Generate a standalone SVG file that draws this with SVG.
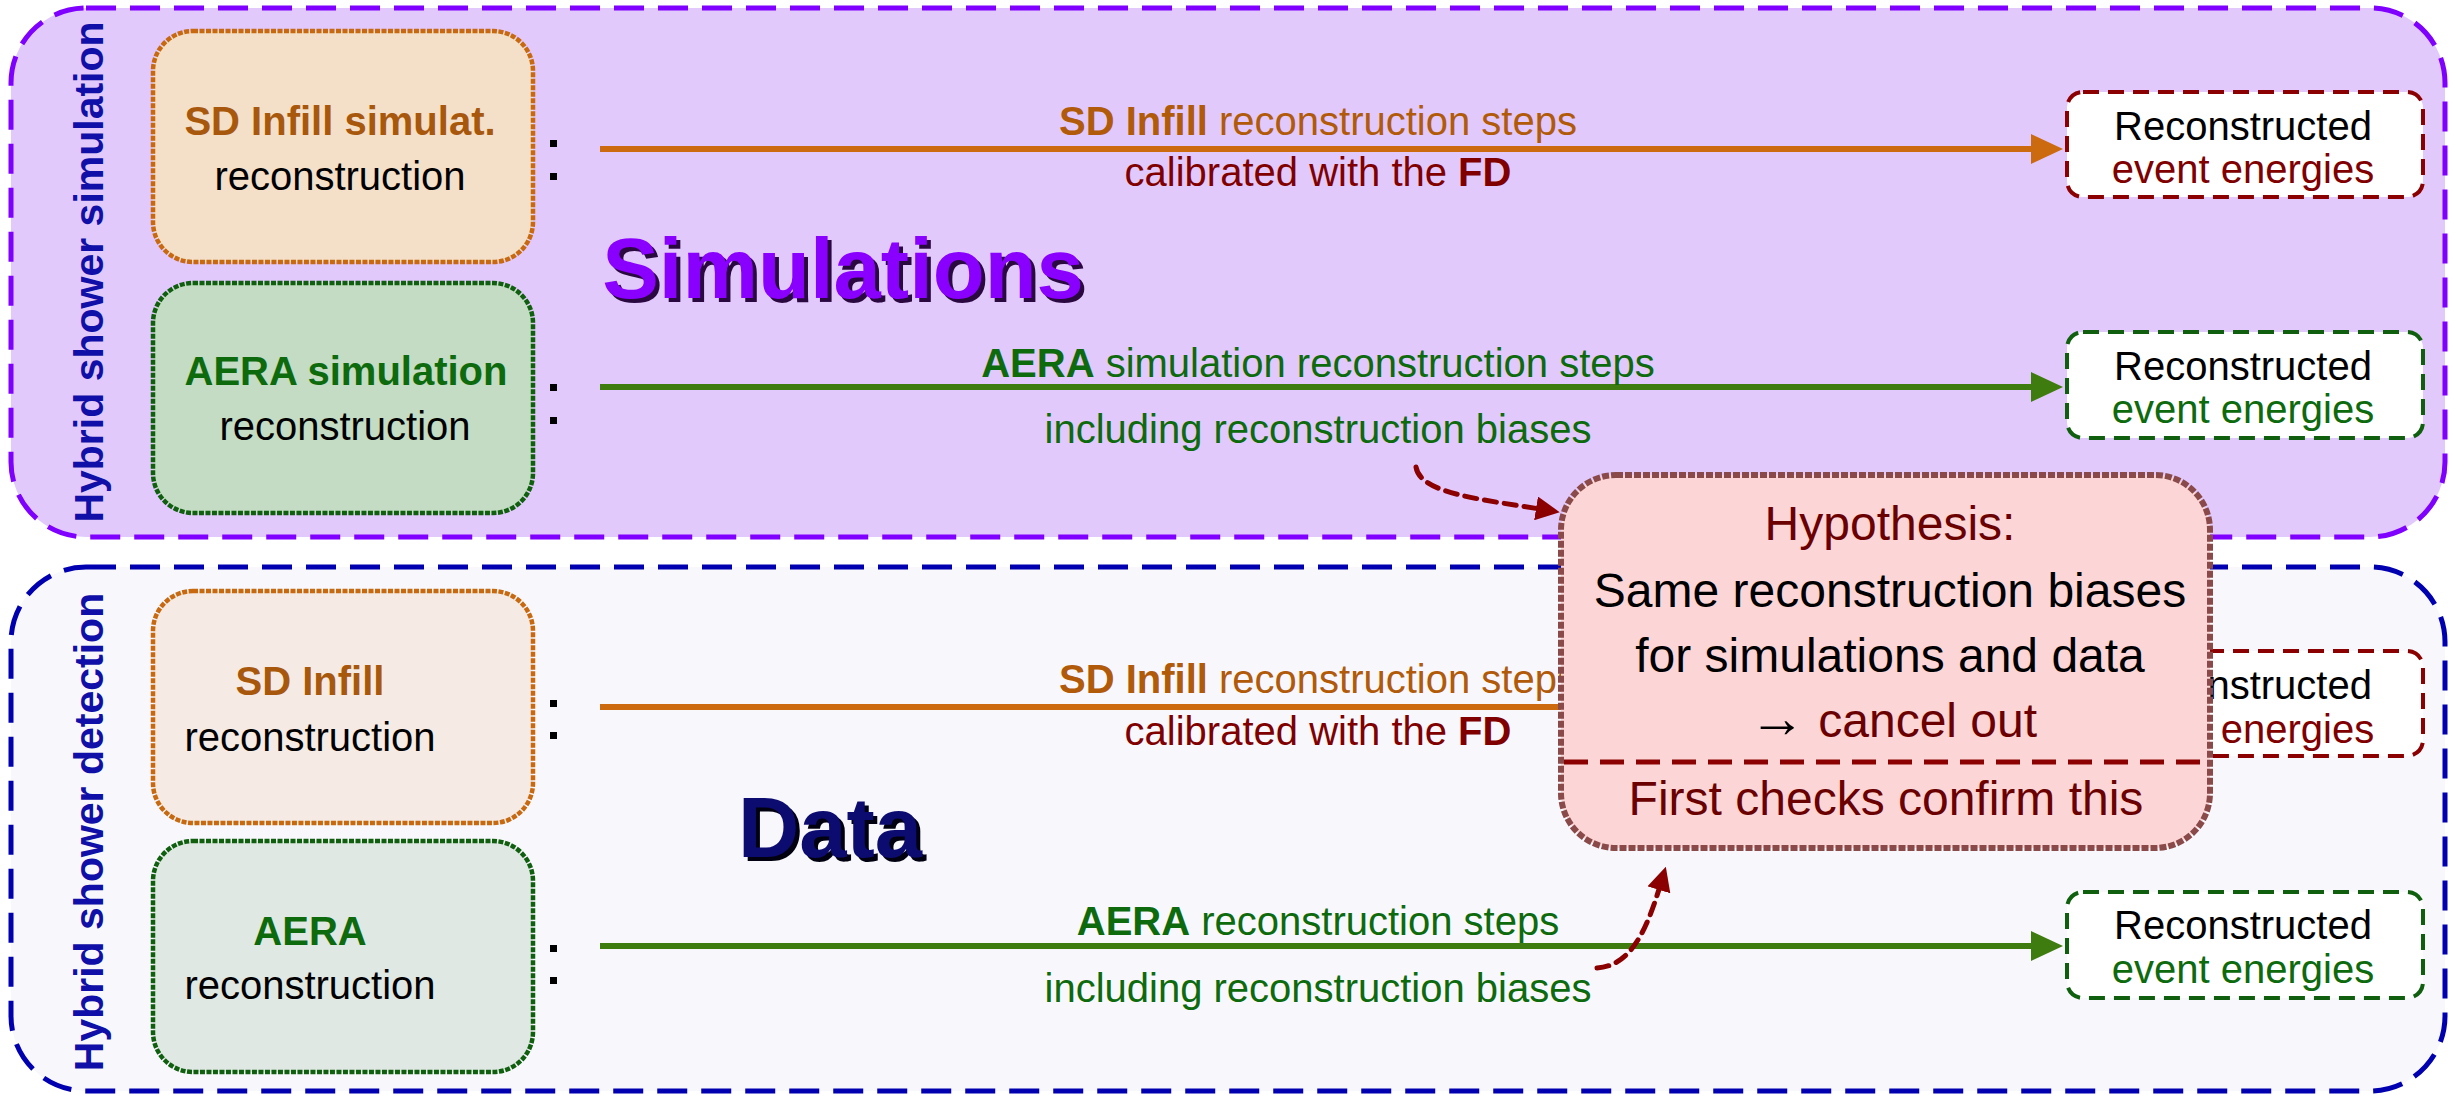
<svg xmlns="http://www.w3.org/2000/svg" width="2454" height="1094" viewBox="0 0 2454 1094">
  <style>
    text { font-family: "Liberation Sans", Arial, sans-serif; font-size: 40px; }
    .b { font-weight: bold; }
    .mid { text-anchor: middle; }
    .blk { fill: #000000; }
    .dred { fill: #800000; }
    .org { fill: #b05a0a; }
    .grn { fill: #0d6a0d; }
    .vlab { font-size: 41px; font-weight: bold; fill: #1010a8; text-anchor: middle; }
    .big { font-size: 85px; font-weight: bold; }
    .hyp { font-size: 48px; text-anchor: middle; }
    .arw { font-size: 56px; font-weight: bold; fill: #000000; }
    .box { stroke-width: 4.5; stroke-dasharray: 5 1.5; }
    .rbox { fill: #ffffff; stroke-width: 4; stroke-dasharray: 16 9; }
    .dot { fill: #000000; }
    .conn { fill: none; stroke-width: 6; }
    .curve { fill: none; stroke: #8b0000; stroke-width: 5; stroke-dasharray: 12 8; stroke-linecap: round; }
  </style>
  <defs>
    <marker id="headOrange" viewBox="0 0 32 30" markerWidth="32" markerHeight="30" markerUnits="userSpaceOnUse" refX="2" refY="15" orient="auto">
      <path d="M0,0 L32,15 L0,30 Z" fill="#cc6a10"/>
    </marker>
    <marker id="headGreen" viewBox="0 0 32 30" markerWidth="32" markerHeight="30" markerUnits="userSpaceOnUse" refX="2" refY="15" orient="auto">
      <path d="M0,0 L32,15 L0,30 Z" fill="#3f7c10"/>
    </marker>
    <marker id="headRed" viewBox="0 0 24 24" markerWidth="24" markerHeight="24" markerUnits="userSpaceOnUse" refX="4" refY="12" orient="auto">
      <path d="M0,0 L24,12 L0,24 Z" fill="#8b0000"/>
    </marker>
  </defs>

  <rect width="2454" height="1094" fill="#ffffff"/>

  <!-- simulation frame -->
  <g id="frame-simulation">
    <rect x="11" y="8" width="2434" height="529" rx="75" fill="#e2c9fb" stroke="#7f00ff" stroke-width="5" stroke-dasharray="30 14"/>
    <text class="vlab" transform="translate(103,272) rotate(-90)">Hybrid shower simulation</text>
    <text class="big mid" x="847" y="302" fill="#2a0840">Simulations</text>
    <text class="big mid" x="843" y="298" fill="#8a00ff">Simulations</text>
  </g>

  <!-- data frame -->
  <g id="frame-data">
    <rect x="11" y="567" width="2434" height="524" rx="75" fill="#f8f8fc" stroke="#0000b0" stroke-width="5" stroke-dasharray="30 14"/>
    <text class="vlab" transform="translate(103,832) rotate(-90)">Hybrid shower detection</text>
    <text class="big mid" x="834" y="861" fill="#000010">Data</text>
    <text class="big mid" x="830" y="857" fill="#0c0c70">Data</text>
  </g>

  <!-- left-hand source nodes -->
  <g id="node-sd-sim">
    <rect class="box" x="153" y="31" width="380" height="231" rx="40" fill="#f4dfc9" stroke="#c8680f"/>
    <text class="b mid" x="340" y="135" fill="#a8580c">SD Infill simulat.</text>
    <text class="mid blk" x="340" y="190">reconstruction</text>
  </g>
  <g id="node-aera-sim">
    <rect class="box" x="153" y="283" width="380" height="230" rx="40" fill="#c3dcc3" stroke="#0f5f0f"/>
    <text class="b mid grn" x="346" y="385">AERA simulation</text>
    <text class="mid blk" x="345" y="440">reconstruction</text>
  </g>
  <g id="node-sd-data">
    <rect class="box" x="153" y="591" width="380" height="232" rx="40" fill="#f5ebe4" stroke="#c8680f"/>
    <text class="b mid" x="310" y="695" fill="#a8580c">SD Infill</text>
    <text class="mid blk" x="310" y="751">reconstruction</text>
  </g>
  <g id="node-aera-data">
    <rect class="box" x="153" y="841" width="380" height="231" rx="40" fill="#e0e8e3" stroke="#0f5f0f"/>
    <text class="b mid grn" x="310" y="945">AERA</text>
    <text class="mid blk" x="310" y="999">reconstruction</text>
  </g>

  <!-- right-hand result nodes -->
  <g id="node-energy-sd-sim">
    <rect class="rbox" x="2067" y="92" width="356" height="105" rx="16" stroke="#8b0000"/>
    <text class="mid blk" x="2243" y="140">Reconstructed</text>
    <text class="mid dred" x="2243" y="183">event energies</text>
  </g>
  <g id="node-energy-aera-sim">
    <rect class="rbox" x="2067" y="332" width="356" height="106" rx="16" stroke="#0f5f0f"/>
    <text class="mid blk" x="2243" y="380">Reconstructed</text>
    <text class="mid grn" x="2243" y="423">event energies</text>
  </g>
  <g id="node-energy-sd-data">
    <rect class="rbox" x="2067" y="651" width="356" height="105" rx="16" stroke="#8b0000"/>
    <text class="mid blk" x="2243" y="699">Reconstructed</text>
    <text class="mid dred" x="2243" y="743">event energies</text>
  </g>
  <g id="node-energy-aera-data">
    <rect class="rbox" x="2067" y="892" width="356" height="106" rx="16" stroke="#0f5f0f"/>
    <text class="mid blk" x="2243" y="939">Reconstructed</text>
    <text class="mid grn" x="2243" y="983">event energies</text>
  </g>

  <!-- connectors with their step labels -->
  <g id="connectors">
    <rect class="dot" x="550" y="140" width="7" height="7"/>
    <rect class="dot" x="550" y="173" width="7" height="7"/>
    <rect class="dot" x="550" y="384" width="7" height="7"/>
    <rect class="dot" x="550" y="417" width="7" height="7"/>
    <rect class="dot" x="550" y="700" width="7" height="7"/>
    <rect class="dot" x="550" y="732" width="7" height="7"/>
    <rect class="dot" x="550" y="945" width="7" height="7"/>
    <rect class="dot" x="550" y="977" width="7" height="7"/>

    <line class="conn" x1="600" y1="149" x2="2033" y2="149" stroke="#cc6a10" marker-end="url(#headOrange)"/>
    <text class="mid org" x="1318" y="135"><tspan class="b">SD Infill</tspan> reconstruction steps</text>
    <text class="mid dred" x="1318" y="186">calibrated with the <tspan class="b">FD</tspan></text>

    <line class="conn" x1="600" y1="387" x2="2033" y2="387" stroke="#3f7c10" marker-end="url(#headGreen)"/>
    <text class="mid grn" x="1318" y="377"><tspan class="b">AERA</tspan> simulation reconstruction steps</text>
    <text class="mid grn" x="1318" y="443">including reconstruction biases</text>

    <line class="conn" x1="600" y1="707" x2="2033" y2="707" stroke="#cc6a10" marker-end="url(#headOrange)"/>
    <text class="mid org" x="1318" y="693"><tspan class="b">SD Infill</tspan> reconstruction steps</text>
    <text class="mid dred" x="1318" y="745">calibrated with the <tspan class="b">FD</tspan></text>

    <line class="conn" x1="600" y1="946" x2="2033" y2="946" stroke="#3f7c10" marker-end="url(#headGreen)"/>
    <text class="mid grn" x="1318" y="935"><tspan class="b">AERA</tspan> reconstruction steps</text>
    <text class="mid grn" x="1318" y="1002">including reconstruction biases</text>

    <path class="curve" d="M1416,467 C1420,493 1478,499 1540,509" marker-end="url(#headRed)"/>
    <path class="curve" d="M1597,968 C1630,966 1646,932 1660,886" marker-end="url(#headRed)"/>
  </g>

  <!-- hypothesis callout -->
  <g id="node-hypothesis">
    <rect x="1561" y="475" width="649" height="373" rx="55" fill="#fcd6d6" stroke="#8a4a4a" stroke-width="6" stroke-dasharray="7 2"/>
    <line x1="1564" y1="762" x2="2207" y2="762" stroke="#8b0000" stroke-width="5" stroke-dasharray="24 12"/>
    <text class="hyp" x="1890" y="540" fill="#6b0000">Hypothesis:</text>
    <text class="hyp blk" x="1890" y="607">Same reconstruction biases</text>
    <text class="hyp blk" x="1890" y="672">for simulations and data</text>
    <text class="hyp" x="1893" y="737" fill="#6b0000"><tspan class="arw">→</tspan> cancel out</text>
    <text class="hyp" x="1886" y="815" fill="#6b0000">First checks confirm this</text>
  </g>
</svg>
